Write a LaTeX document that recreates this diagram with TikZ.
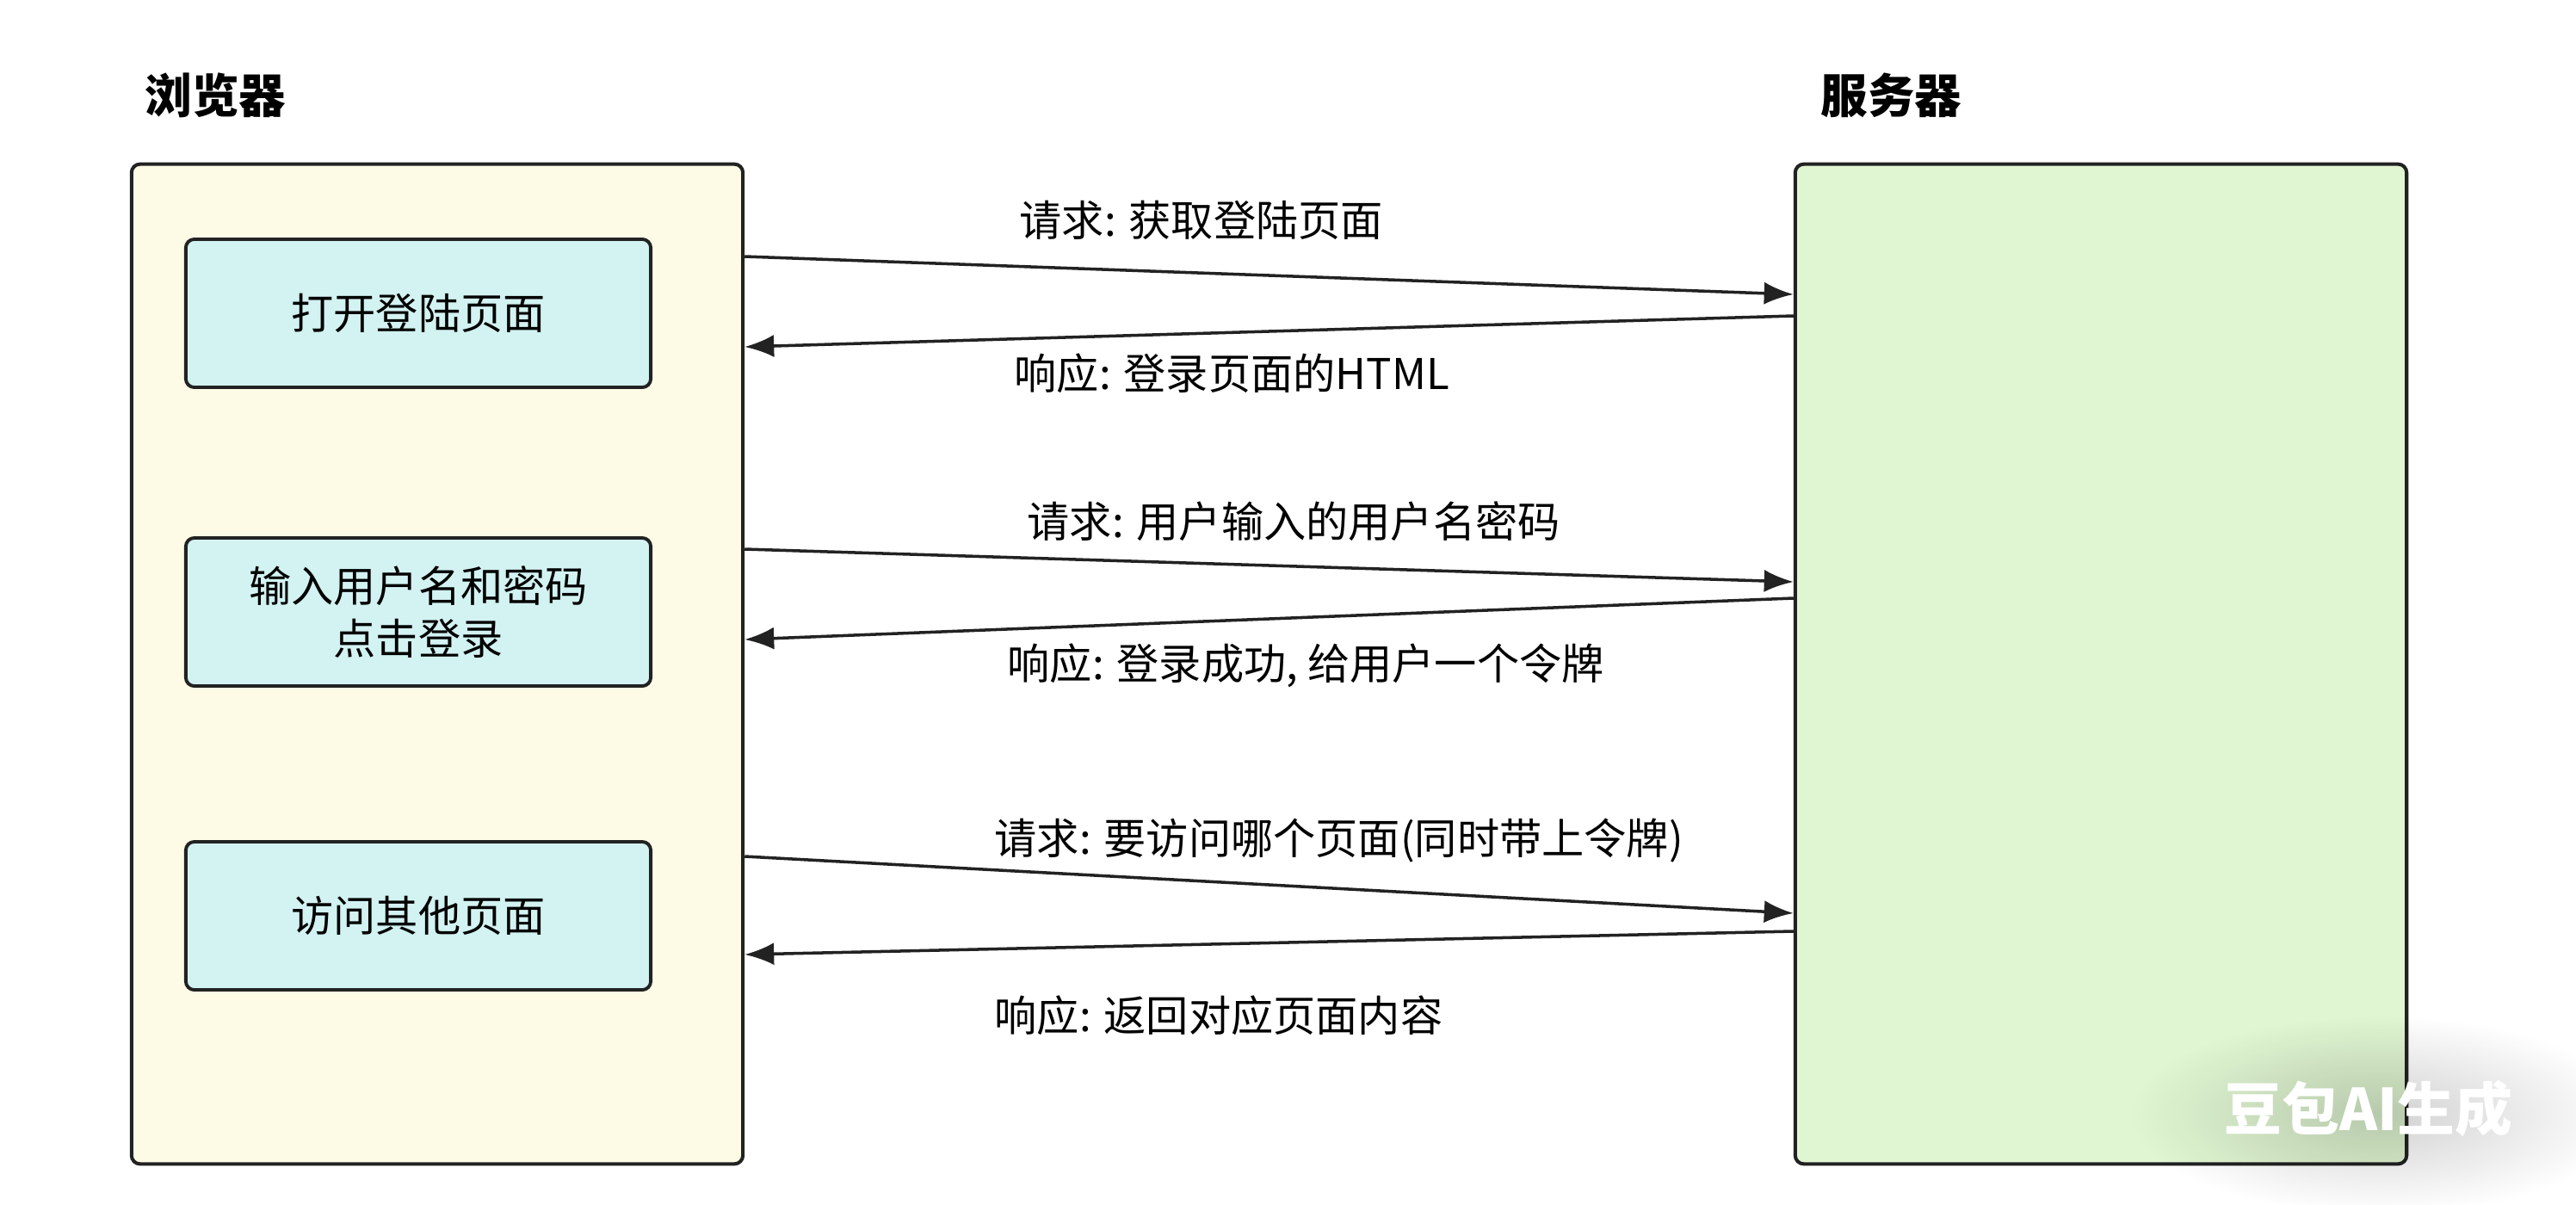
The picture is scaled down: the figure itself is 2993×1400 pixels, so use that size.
\documentclass[tikz,border=0pt]{standalone}
\usepackage{fontspec}
\setmainfont{Noto Sans CJK SC}
\usetikzlibrary{arrows.meta,fadings}
\definecolor{browserfill}{HTML}{FDFAE5}
\definecolor{serverfill}{HTML}{E0F6D2}
\definecolor{stepfill}{HTML}{D3F2F2}
\definecolor{edge}{HTML}{222222}
\newcommand{\titre}[1]{\textbf{#1}}
\tikzfading[name=glow, inner color=transparent!82, outer color=transparent!100]

\tikzset{
  side/.style={draw=edge, line width=1.15pt, rounded corners=0.1cm,
    minimum width=7.1cm, minimum height=11.61cm},
  stepbox/.style={draw=edge, fill=stepfill, line width=1.1pt, rounded corners=0.1cm,
    minimum width=5.4cm, minimum height=1.72cm, align=center,
    font=\fontsize{14}{17.4}\selectfont},
  msg/.style={draw=edge, line width=1pt, -{Latex[length=0.34cm,width=0.26cm]}},
  msglabel/.style={anchor=west, inner sep=0pt, font=\fontsize{14}{17}\selectfont},
  heading/.style={anchor=west, inner sep=0pt, font=\fontsize{15.5}{18}\selectfont},
}

\begin{document}
\begin{tikzpicture}[x=0.01cm, y=-0.01cm]
  \useasboundingbox (0,0) rectangle (2993,1400);
  \fill[white] (0,0) rectangle (2993,1400);

  % les deux colonnes
  \node[heading] (browsertitle) at (168,111) {\titre{浏览器}};
  \node[heading] (servertitle) at (2115,111) {\titre{服务器}};
  \node[side, fill=browserfill] (browser) at (508,771.5) {};
  \node[side, fill=serverfill] (server) at (2441,771.5) {};

  % les etapes du navigateur
  \node[stepbox] (open) at (486,364) {打开登陆页面};
  \node[stepbox] (login) at (486,711) {输入用户名和密码\\点击登录};
  \node[stepbox] (visit) at (486,1064) {访问其他页面};

  % les messages
  \draw[msg] (browser.east |- 0,298) -- (server.west |- 0,342);
  \node[msglabel] (req1) at (1184,256) {请求: 获取登陆页面};
  \draw[msg] (server.west |- 0,367) -- (browser.east |- 0,403);
  \node[msglabel] (resp1) at (1178,434) {响应: 登录页面的HTML};

  \draw[msg] (browser.east |- 0,638) -- (server.west |- 0,676);
  \node[msglabel] (req2) at (1193,606) {请求: 用户输入的用户名密码};
  \draw[msg] (server.west |- 0,695) -- (browser.east |- 0,743);
  \node[msglabel] (resp2) at (1170,773) {响应: 登录成功, 给用户一个令牌};

  \draw[msg] (browser.east |- 0,995) -- (server.west |- 0,1061);
  \node[msglabel] (req3) at (1155,977) {请求: 要访问哪个页面(同时带上令牌)};
  \draw[msg] (server.west |- 0,1082) -- (browser.east |- 0,1109);
  \node[msglabel] (resp3) at (1155,1180) {响应: 返回对应页面内容};

  % filigrane
  \fill[black, path fading=glow] (2765,1295) ellipse [x radius=290, y radius=115];
  \node[font=\bfseries\fontsize{19}{20}\selectfont, text=white] (mark) at (2752,1288) {豆包AI生成};
\end{tikzpicture}
\end{document}
